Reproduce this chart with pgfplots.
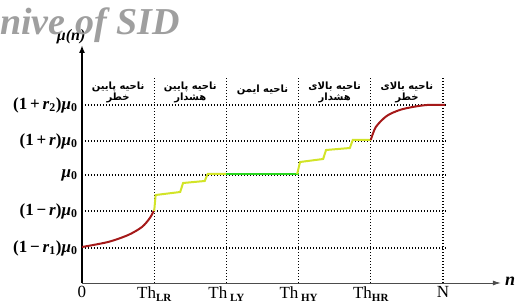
\documentclass[border=0pt]{standalone}
\usepackage{pgfplots}
\pgfplotsset{compat=1.18}
\usetikzlibrary{arrows.meta}
\usepackage{fontspec}
\setmainfont{Liberation Serif}
\newfontfamily\arabicfont[Script=Arabic]{DejaVu Sans}
\TeXXeTstate=1
\definecolor{dred}{RGB}{165,25,25}
\definecolor{ylw}{RGB}{210,228,40}
\definecolor{grn}{RGB}{40,215,30}
\newcommand{\fa}[1]{{\arabicfont\bfseries\beginR #1\endR}}
\newcommand{\thl}[1]{Th\raisebox{-0.35ex}{\fontsize{11}{12}\selectfont\bfseries #1}}
\newcommand{\yl}[3]{(1\,#1\,\textit{r}\textsubscript{#2})\textit{μ}\textsubscript{0}}
\begin{document}
\begin{tikzpicture}
\useasboundingbox (-82pt,-19pt) rectangle (435pt,283pt);
\begin{axis}[
 at={(0,0)}, anchor=south west, scale only axis,
 x=72.2pt, y=1pt, xmin=0, xmax=5.8, ymin=0, ymax=238,
 axis lines=left, clip=false,
 x axis line style={draw=gray!60!black, line width=0.8pt, -{Latex[length=8pt,width=5pt]}},
 y axis line style={black, line width=1.8pt, -{Latex[length=8pt,width=6pt]}},
 xtick={0,1,2,3,4,5},
 xticklabels={0,\thl{LR},\thl{ LY},\thl{ HY},\thl{HR},N},
 ytick={35,72,108,142,178},
 yticklabels={\yl{−}{1}{},{(1\,−\,\textit{r})\textit{μ}\textsubscript{0}},{\textit{μ}\textsubscript{0}},{(1\,+\,\textit{r})\textit{μ}\textsubscript{0}},\yl{+}{2}{}},
 major tick length=0pt,
 xticklabel style={font=\fontsize{17}{19}\selectfont},
 yticklabel style={font=\fontsize{17}{19}\selectfont\bfseries, xshift=-1pt},
]
% dotted grid
\draw[line width=1.1pt, dash pattern=on 1.2pt off 1.8pt] (axis cs:0,35) -- (axis cs:5.03,35);
\draw[line width=1.1pt, dash pattern=on 1.2pt off 1.8pt] (axis cs:0,72) -- (axis cs:5.03,72);
\draw[line width=1.1pt, dash pattern=on 1.2pt off 1.8pt] (axis cs:0,108) -- (axis cs:5.03,108);
\draw[line width=1.1pt, dash pattern=on 1.2pt off 1.8pt] (axis cs:0,142) -- (axis cs:5.03,142);
\draw[line width=1.1pt, dash pattern=on 1.2pt off 1.8pt] (axis cs:0,178) -- (axis cs:5.03,178);
\draw[line width=1.1pt, dash pattern=on 1.2pt off 1.8pt] (axis cs:1,0) -- (axis cs:1,205);
\draw[line width=1.1pt, dash pattern=on 1.2pt off 1.8pt] (axis cs:2,0) -- (axis cs:2,205);
\draw[line width=1.1pt, dash pattern=on 1.2pt off 1.8pt] (axis cs:3,0) -- (axis cs:3,205);
\draw[line width=1.1pt, dash pattern=on 1.2pt off 1.8pt] (axis cs:4,0) -- (axis cs:4,205);
\draw[line width=1.1pt, dash pattern=on 1.2pt off 1.8pt] (axis cs:5,0) -- (axis cs:5,205);
% curves
\addplot[dred, line width=2pt, smooth] coordinates {(0,36)(0.36,41)(0.64,48)(0.83,56)(0.94,65)(1,73)};
\addplot[ylw, line width=2pt] coordinates {(1,72)(1.02,88)(1.36,91)(1.40,100)(1.70,102)(1.74,109)(2,109)};
\addplot[grn, line width=2pt] coordinates {(2,109)(3,109)};
\addplot[ylw, line width=2pt] coordinates {(2.98,109)(3.02,121)(3.34,124)(3.38,133)(3.71,135)(3.75,143)(4,143)};
\addplot[dred, line width=2pt, smooth] coordinates {(4,143)(4.07,156)(4.22,167)(4.4,173)(4.58,176)(4.78,178)(5.03,178)};
\coordinate (R1) at (axis cs:0.5,191);
\coordinate (R2) at (axis cs:1.5,191);
\coordinate (R3) at (axis cs:2.5,193);
\coordinate (R4) at (axis cs:3.5,191);
\coordinate (R5) at (axis cs:4.5,191);
\coordinate (MU) at (axis cs:-0.15,246);
\coordinate (NN) at (axis cs:5.93,2);
\end{axis}
\node[font=\fontsize{16}{18}\selectfont\bfseries\itshape] at (MU) {μ(n)};
\node[font=\fontsize{18}{18}\selectfont\bfseries\itshape] at (NN) {n};
\node[anchor=base west, text=gray!75, font=\fontsize{38}{40}\selectfont\bfseries\itshape, inner sep=0] at (-82pt,248pt) {nive of SID};
\node[align=center, font=\fontsize{10}{11}\selectfont, inner sep=0] at (R1) {\fa{ناحیه پایین}\\\fa{خطر}};
\node[align=center, font=\fontsize{10}{11}\selectfont, inner sep=0] at (R2) {\fa{ناحیه پایین}\\\fa{هشدار}};
\node[align=center, font=\fontsize{10}{11}\selectfont, inner sep=0] at (R3) {\fa{ناحیه ایمن}};
\node[align=center, font=\fontsize{10}{11}\selectfont, inner sep=0] at (R4) {\fa{ناحیه بالای}\\\fa{هشدار}};
\node[align=center, font=\fontsize{10}{11}\selectfont, inner sep=0] at (R5) {\fa{ناحیه بالای}\\\fa{خطر}};
\end{tikzpicture}
\end{document}
